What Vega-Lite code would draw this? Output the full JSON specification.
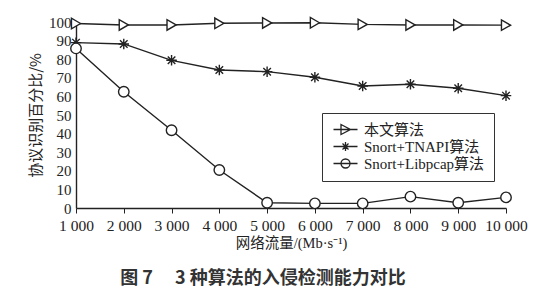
{
  "$schema": "https://vega.github.io/schema/vega-lite/v6.json",
  "width": 430,
  "height": 186,
  "autosize": {"type": "none"},
  "padding": {"left": 76, "top": 22, "right": 37, "bottom": 92},
  "background": "white",
  "title": {
    "text": "图 7　 3 种算法的入侵检测能力对比",
    "orient": "bottom",
    "anchor": "middle",
    "dx": -28,
    "offset": 20,
    "font": "Noto Sans CJK SC",
    "fontSize": 18,
    "fontWeight": "bold",
    "color": "#333"
  },
  "config": {
    "view": {"stroke": null},
    "axis": {"grid": false, "domainColor": "#222", "domainWidth": 1.4, "labelColor": "#222", "titleColor": "#222", "tickColor": "#222"}
  },
  "data": {
    "values": [
      {"x": 1000, "y": 99.2, "s": "本文算法"},
      {"x": 2000, "y": 98.4, "s": "本文算法"},
      {"x": 3000, "y": 98.4, "s": "本文算法"},
      {"x": 4000, "y": 99.3, "s": "本文算法"},
      {"x": 5000, "y": 99.5, "s": "本文算法"},
      {"x": 6000, "y": 99.6, "s": "本文算法"},
      {"x": 7000, "y": 98.7, "s": "本文算法"},
      {"x": 8000, "y": 98.4, "s": "本文算法"},
      {"x": 9000, "y": 98.4, "s": "本文算法"},
      {"x": 10000, "y": 98.3, "s": "本文算法"},
      {"x": 1000, "y": 88.9, "s": "Snort+TNAPI算法"},
      {"x": 2000, "y": 88.2, "s": "Snort+TNAPI算法"},
      {"x": 3000, "y": 79.4, "s": "Snort+TNAPI算法"},
      {"x": 4000, "y": 74.2, "s": "Snort+TNAPI算法"},
      {"x": 5000, "y": 73.3, "s": "Snort+TNAPI算法"},
      {"x": 6000, "y": 70.3, "s": "Snort+TNAPI算法"},
      {"x": 7000, "y": 65.6, "s": "Snort+TNAPI算法"},
      {"x": 8000, "y": 66.5, "s": "Snort+TNAPI算法"},
      {"x": 9000, "y": 64.4, "s": "Snort+TNAPI算法"},
      {"x": 10000, "y": 60.4, "s": "Snort+TNAPI算法"},
      {"x": 1000, "y": 85.8, "s": "Snort+Libpcap算法"},
      {"x": 2000, "y": 62.5, "s": "Snort+Libpcap算法"},
      {"x": 3000, "y": 41.8, "s": "Snort+Libpcap算法"},
      {"x": 4000, "y": 20.4, "s": "Snort+Libpcap算法"},
      {"x": 5000, "y": 2.8, "s": "Snort+Libpcap算法"},
      {"x": 6000, "y": 2.5, "s": "Snort+Libpcap算法"},
      {"x": 7000, "y": 2.5, "s": "Snort+Libpcap算法"},
      {"x": 8000, "y": 6.1, "s": "Snort+Libpcap算法"},
      {"x": 9000, "y": 2.8, "s": "Snort+Libpcap算法"},
      {"x": 10000, "y": 5.7, "s": "Snort+Libpcap算法"}
    ]
  },
  "encoding": {
    "x": {
      "field": "x", "type": "quantitative",
      "scale": {"domain": [1000, 10000], "nice": false, "zero": false},
      "axis": {
        "values": [1000, 2000, 3000, 4000, 5000, 6000, 7000, 8000, 9000, 10000],
        "labelExpr": "replace(format(datum.value, ','), ',', ' ')",
        "labelFont": "Liberation Serif", "labelFontSize": 15.5,
        "ticks": true, "tickSize": 5, "labelPadding": 5, "labelFlush": false,
        "title": "网络流量/(Mb·s⁻¹)",
        "titleFont": "Liberation Serif, Noto Sans CJK SC", "titleFontSize": 14.5, "titleFontWeight": "normal", "titlePadding": 3
      }
    },
    "y": {
      "field": "y", "type": "quantitative",
      "scale": {"domain": [0, 100], "nice": false},
      "axis": {
        "values": [0, 10, 20, 30, 40, 50, 60, 70, 80, 90, 100],
        "labelFont": "Liberation Serif", "labelFontSize": 15,
        "ticks": false, "labelPadding": 5,
        "title": "协议识别百分比/%",
        "titleFont": "Noto Sans CJK SC", "titleFontSize": 15, "titleFontWeight": "normal", "titlePadding": 5
      }
    }
  },
  "layer": [
    {
      "mark": {"type": "line", "color": "#222", "strokeWidth": 1.4},
      "encoding": {"detail": {"field": "s"}}
    },
    {
      "mark": {"type": "point", "fill": "white", "stroke": "#222", "strokeWidth": 1.4, "opacity": 1, "filled": true, "size": 110},
      "encoding": {
        "shape": {
          "field": "s", "type": "nominal",
          "scale": {
            "domain": ["本文算法", "Snort+TNAPI算法", "Snort+Libpcap算法"],
            "range": ["triangle-right", "M0,-1L0,1M-1,0L1,0M-0.72,-0.72L0.72,0.72M-0.72,0.72L0.72,-0.72", "circle"]
          },
          "legend": null
        }
      }
    },
    {
      "mark": {"type": "point", "opacity": 0, "filled": false, "size": 1, "color": "#222", "stroke": "#222"},
      "encoding": {
        "shape": {
          "field": "s", "type": "nominal",
          "scale": {
            "domain": ["本文算法", "Snort+TNAPI算法", "Snort+Libpcap算法"],
            "range": [
              "M-1,0L3.8,0M0.5,-1L2.4,0L0.5,1Z",
              "M-1,0L3.8,0M1.4,-0.9L1.4,0.9M0.8,-0.6L2,0.6M0.8,0.6L2,-0.6",
              "M-1,0L3.8,0M2.3,0A0.9,0.9 0 1,1 0.5,0A0.9,0.9 0 1,1 2.3,0"
            ]
          },
          "legend": {
            "title": null,
            "orient": "none",
            "legendX": 246,
            "legendY": 91,
            "padding": 9,
            "strokeColor": "#333",
            "fillColor": "white",
            "symbolSize": 100,
            "symbolStrokeColor": "#222",
            "symbolFillColor": "white",
            "symbolStrokeWidth": 1.3,
            "labelFont": "Liberation Serif, Noto Sans CJK SC",
            "labelFontSize": 15,
            "labelColor": "#222",
            "labelOffset": 18,
            "rowPadding": 1,
            "encode": {
              "symbols": {
                "update": {
                  "stroke": {"value": "#222"},
                  "fill": {"value": "white"},
                  "strokeWidth": {"value": 1.3},
                  "opacity": {"value": 1}
                }
              }
            }
          }
        }
      }
    }
  ],
  "resolve": {"scale": {"shape": "independent"}}
}
